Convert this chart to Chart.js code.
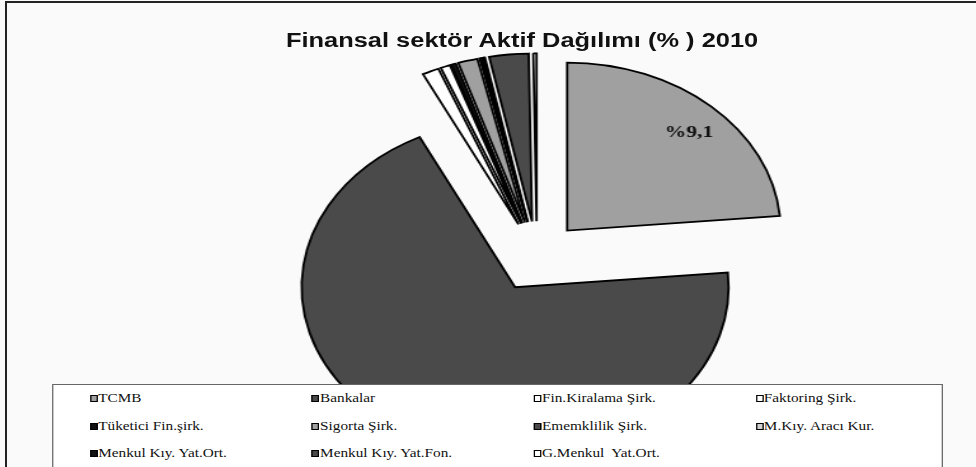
<!DOCTYPE html>
<html>
<head>
<meta charset="utf-8">
<script src="https://cdn.jsdelivr.net/npm/chart.js@4.4.0/dist/chart.umd.min.js"></script>
<style>
  html, body { margin: 0; padding: 0; width: 976px; height: 467px; overflow: hidden; background: #f9faf9; }
  #frame { position: absolute; left: 5px; top: 1px; width: 980px; height: 480px; border-left: 2px solid #222; border-top: 2px solid #222; }
  #stage { position: absolute; left: 0; top: 0; width: 768px; height: 467px; transform: scaleX(1.270833); transform-origin: 0 0; }
  #c { position: absolute; left: 0; top: 0; }
  #title { position: absolute; left: 110.8px; width: 600px; top: 30.4px; text-align: center; font: bold 20px "Liberation Sans", Arial, sans-serif; line-height: 20px; color: #111; white-space: pre; }
  #legend { position: absolute; left: 40.9px; top: 384px; width: 699px; height: 90px; background: #fff; border: 1px solid #666; }
  .item { position: absolute; height: 14px; line-height: 14px; font: 12px "Liberation Serif", "Times New Roman", serif; color: #111; white-space: pre; }
  .sw { position: absolute; left: 0; top: 4px; width: 4px; height: 5px; border: 1px solid #000; }
  .tx { position: absolute; left: 6.5px; top: 0; }
</style>
</head>
<body>
<div id="frame"></div>
<div id="stage">
  <canvas id="c" width="768" height="467"></canvas>
  <div id="title"></div>
  <div id="legend"></div>
</div>
<script>
const chartTitle = "Finansal sektör Aktif Dağılımı (% ) 2010";
const categories = ["TCMB", "Bankalar", "Fin.Kiralama Şirk.", "Faktoring Şirk.", "Tüketici Fin.şirk.", "Sigorta Şirk.", "Ememklilik Şirk.", "M.Kıy. Aracı Kur.", "Menkul Kıy. Yat.Ort.", "Menkul Kıy. Yat.Fon.", "G.Menkul  Yat.Ort."];
const shares = [23.6, 69.0, 1.25, 0.72, 0.36, 1.47, 0.18, 0.1, 0.08, 2.97, 0.25];
const sliceLabels = ["%9,1", "", "", "", "", "", "", "", "", "", ""];
const sliceColors = ["#a0a0a0", "#4a4a4a", "#ffffff", "#ffffff", "#111111", "#a0a0a0", "#4a4a4a", "#d0d0d0", "#111111", "#4a4a4a", "#ffffff"];
const explodeDistance = 35.2; // every slice pulled out from the centre (Excel "explosion")

document.getElementById('title').textContent = chartTitle;

// Exploded pie: move each arc element's centre outward along its own mid-angle
const explodePlugin = {
  id: 'explodePlugin',
  beforeDatasetDraw(chart, args) {
    const meta = args.meta;
    const ctrl = meta.controller;
    const area = chart.chartArea;
    const cx = (area.left + area.right) / 2 + (ctrl.offsetX || 0);
    const cy = (area.top + area.bottom) / 2 + (ctrl.offsetY || 0);
    meta.data.forEach(el => {
      const mid = (el.startAngle + el.endAngle) / 2;
      el.x = cx + Math.cos(mid) * explodeDistance;
      el.y = cy + Math.sin(mid) * explodeDistance;
    });
  }
};

const sliceLabelPlugin = {
  id: 'sliceLabelPlugin',
  afterDatasetsDraw(chart) {
    const meta = chart.getDatasetMeta(0);
    const ctx = chart.ctx;
    ctx.save();
    ctx.font = 'bold 17px "Liberation Serif", "Times New Roman", serif';
    ctx.fillStyle = '#111';
    ctx.textAlign = 'center';
    ctx.textBaseline = 'alphabetic';
    meta.data.forEach((el, i) => {
      if (!sliceLabels[i]) return;
      const mid = (el.startAngle + el.endAngle) / 2 + 0.024;
      const d = 0.823 * el.outerRadius;
      ctx.fillText(sliceLabels[i], el.x + Math.cos(mid) * d, el.y + Math.sin(mid) * d + 6);
    });
    ctx.restore();
  }
};

const chart = new Chart(document.getElementById('c'), {
  type: 'pie',
  data: {
    labels: categories,
    datasets: [{
      data: shares,
      backgroundColor: sliceColors,
      borderColor: '#000',
      borderWidth: 1.8,
      borderJoinStyle: 'miter'
    }]
  },
  options: {
    responsive: false,
    animation: false,
    events: [],
    radius: 168,
    layout: { padding: { left: 77, right: 0, top: 46, bottom: 0 } },
    plugins: { legend: { display: false }, tooltip: { enabled: false }, title: { display: false } }
  },
  plugins: [explodePlugin, sliceLabelPlugin]
});

// HTML legend built from the chart's own labels and colours
const legend = document.getElementById('legend');
const colX = [28.9, 203.5, 378.1, 552.7];
const rowY = [6.3, 33.7, 61.3];
chart.data.labels.forEach((lab, i) => {
  const item = document.createElement('div');
  item.className = 'item';
  item.style.left = colX[i % 4] + 'px';
  item.style.top = rowY[Math.floor(i / 4)] + 'px';
  const sw = document.createElement('span');
  sw.className = 'sw';
  sw.style.background = chart.data.datasets[0].backgroundColor[i];
  const tx = document.createElement('span');
  tx.className = 'tx';
  tx.textContent = lab;
  item.appendChild(sw);
  item.appendChild(tx);
  legend.appendChild(item);
});
</script>
</body>
</html>
